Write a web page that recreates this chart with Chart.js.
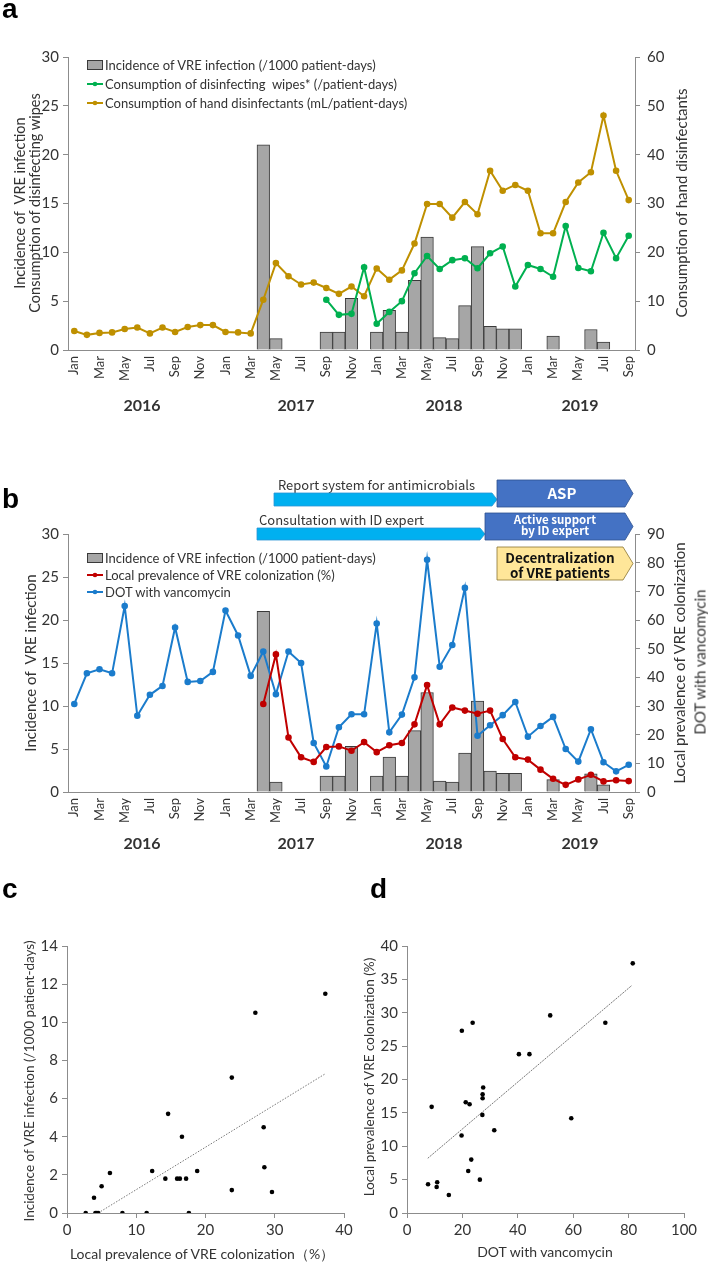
<!DOCTYPE html>
<html><head><meta charset="utf-8">
<script src="https://cdn.jsdelivr.net/npm/chart.js@4/dist/chart.umd.min.js"></script>
<style>
body{margin:0;background:#fff;width:708px;height:1264px;position:relative;overflow:hidden;font-family:Lato,sans-serif;color:#333}
canvas{position:absolute}
#ov{position:absolute;left:0;top:0;pointer-events:none}
.vt{position:absolute;transform:translate(-50%,-50%) rotate(-90deg);white-space:pre;text-align:center;font-family:Lato,sans-serif;color:#333}
</style></head>
<body>
<canvas id="ca" width="708" height="445" style="left:0;top:0"></canvas>
<canvas id="cb" width="708" height="400" style="left:0;top:470px"></canvas>
<canvas id="cc" width="360" height="344" style="left:0;top:920px"></canvas>
<canvas id="cd" width="348" height="344" style="left:360px;top:920px"></canvas>

<div class="vt" style="left:19px;top:203px;font-size:14.5px;line-height:15px">Incidence of  VRE infection</div>
<div class="vt" style="left:34px;top:203px;font-size:14.5px;line-height:15px">Consumption of disinfecting wipes</div>
<div class="vt" style="left:681px;top:203px;font-size:15px;line-height:15px">Consumption of hand disinfectants</div>
<div class="vt" style="left:30px;top:663px;font-size:15px;line-height:15px">Incidence of  VRE infection</div>
<div class="vt" style="left:679px;top:663px;font-size:15px;line-height:15px">Local prevalence of VRE colonization</div>
<div class="vt" style="left:700px;top:662px;font-size:15px;line-height:15px">DOT with vancomycin</div>
<div class="vt" style="left:29px;top:1081px;font-size:13.5px;line-height:14px">Incidence of VRE infection (/1000 patient-days)</div>
<div class="vt" style="left:369px;top:1077px;font-size:13.5px;line-height:14px">Local prevalence of VRE colonization (%)</div>

<svg id="ov" width="708" height="1264"></svg>

<script>
// ---------- DATA ----------
const categories = ['Jan','Feb','Mar','Apr','May','Jun','Jul','Aug','Sep','Oct','Nov','Dec',
  'Jan','Feb','Mar','Apr','May','Jun','Jul','Aug','Sep','Oct','Nov','Dec',
  'Jan','Feb','Mar','Apr','May','Jun','Jul','Aug','Sep','Oct','Nov','Dec',
  'Jan','Feb','Mar','Apr','May','Jun','Jul','Aug','Sep'];
const years = ['2016','2017','2018','2019'];

// Incidence of VRE infection (/1000 patient-days), left axis
const incidence = [null,null,null,null,null,null,null,null,null,null,null,null,
  null,null,null,21.0,1.16,null,null,null,1.84,1.84,5.3,null,
  1.84,4.06,1.84,7.13,11.57,1.26,1.16,4.54,10.58,2.42,2.18,2.18,
  null,null,1.43,null,null,2.1,0.82,null,null];
// Consumption of disinfecting wipes (/patient-days), left axis
const wipes = [null,null,null,null,null,null,null,null,null,null,null,null,
  null,null,null,null,null,null,null,null,5.15,3.6,3.7,8.47,
  2.69,3.9,5.0,7.86,9.63,8.3,9.2,9.4,8.37,9.9,10.6,6.5,
  8.7,8.3,7.5,12.7,8.4,8.06,12.0,9.4,11.7];
// Consumption of hand disinfectants (mL/patient-days), right axis
const handDisinf = [3.9,3.1,3.5,3.6,4.3,4.6,3.4,4.6,3.7,4.7,5.1,5.1,
  3.7,3.6,3.4,10.3,17.8,15.1,13.4,13.8,12.7,11.5,13.0,11.0,
  16.7,14.4,16.3,21.8,29.9,29.9,27.1,30.3,27.8,36.7,32.6,33.8,
  32.6,23.9,23.9,30.3,34.3,36.4,48.0,36.7,30.7];
// Local prevalence of VRE colonization (%), right axis of b
const prevalence = [null,null,null,null,null,null,null,null,null,null,null,null,
  null,null,null,30.7,48.0,19.0,12.1,10.5,15.7,15.9,14.4,17.4,
  13.9,16.3,17.1,23.6,37.3,23.6,29.5,28.4,27.3,28.4,18.5,12.1,
  11.3,7.8,4.6,2.5,4.4,6.0,3.7,4.1,3.8];
// DOT with vancomycin, right axis of b
const dotVanco = [30.7,41.4,42.8,41.4,64.9,26.6,33.9,37.0,57.4,38.4,38.7,41.9,
  63.3,54.6,40.5,49.0,34.1,49.0,45.0,17.1,8.9,22.6,27.1,27.1,
  58.8,20.8,27.0,40.0,81.0,43.7,51.3,71.2,19.6,23.3,26.8,31.4,
  19.3,23.0,26.2,15.0,10.6,21.9,10.4,7.2,9.5];

// Panel c scatter: prevalence (x) vs incidence (y)
const scatterCx = [2.7,4.1,4.3,4.5,8.0,11.5,17.6,3.9,5.0,6.2,12.3,14.2,14.6,15.9,16.3,16.6,17.2,18.8,23.8,23.8,27.2,28.4,28.5,29.6,37.3];
const scatterCy = [0,0,0,0,0,0,0,0.8,1.4,2.1,2.2,1.8,5.2,1.8,1.8,4.0,1.8,2.2,7.1,1.2,10.5,4.5,2.4,1.1,11.5];
const trendCx = [4.5,37.3];
const trendCy = [0,7.3];
// Panel d scatter: DOT (x) vs prevalence (y)
const scatterDx = [81.5,71.6,51.7,59.3,40.4,44.2,19.8,23.7,8.9,21.2,22.6,27.5,27.3,27.3,27.2,19.7,31.5,23.2,22.1,26.3,7.6,10.7,10.9,15.1];
const scatterDy = [37.4,28.5,29.6,14.2,23.8,23.8,27.3,28.5,15.9,16.6,16.3,18.8,17.8,17.2,14.7,11.6,12.4,8.0,6.3,5.0,4.3,3.9,4.6,2.7];
const trendDx = [7.5,81.2];
const trendDy = [8.2,34.1];

// ---------- STYLE ----------
const axisGray = '#8c8c8c';
const txt = '#333';
const green = '#00b050', gold = '#bf9000', red = '#c00000', blue = '#1b7ccc';
const barFill = '#a6a6a6', barEdge = '#3a3a3a';
const fixW = w => s => { s.width = w; };
const fixH = h => s => { s.height = h; };

function yAxis(pos, max, step, w, pad) {
  return {
    position: pos, min: 0, max: max,
    ticks: {stepSize: step, color: txt, font: {family: 'Lato', size: 15}, padding: pad},
    grid: {drawOnChartArea: false, drawTicks: true, tickLength: 5, color: axisGray},
    border: {display: true, color: axisGray},
    afterFit: fixW(w)
  };
}
function xMonths(h) {
  return {
    offset: true,
    ticks: {autoSkip: false, minRotation: 90, maxRotation: 90, color: txt,
      font: {family: 'Lato', size: 13}, padding: 6,
      callback: function (v, i) { return i % 2 === 0 ? this.getLabelForValue(v) : ''; }},
    grid: {display: false, drawTicks: false},
    border: {display: true, color: axisGray},
    afterFit: fixH(h)
  };
}
function lineDs(label, data, color, axis) {
  return {type: 'line', label, data, yAxisID: axis, borderColor: color, backgroundColor: color,
    borderWidth: 2, pointRadius: 2.3, pointHoverRadius: 2.3, tension: 0, order: 1};
}
function barDs(label, data) {
  return {type: 'bar', label, data, yAxisID: 'y', backgroundColor: barFill, borderColor: barEdge,
    borderWidth: 1, barPercentage: 1, categoryPercentage: 1, order: 2};
}
const basePlugins = {legend: {display: false}, tooltip: {enabled: false}};

// ---------- PANEL A ----------
const dsA = [
  barDs('Incidence of VRE infection (/1000 patient-days)', incidence),
  lineDs('Consumption of disinfecting  wipes* (/patient-days)', wipes, green, 'y'),
  lineDs('Consumption of hand disinfectants (mL/patient-days)', handDisinf, gold, 'y1')
];
new Chart(document.getElementById('ca'), {
  type: 'bar',
  data: {labels: categories, datasets: dsA},
  options: {
    responsive: false, animation: false,
    layout: {padding: {top: 57, left: 0, right: 0, bottom: 0}},
    plugins: basePlugins,
    scales: {
      x: xMonths(95),
      y: yAxis('left', 30, 5, 68, 4),
      y1: yAxis('right', 60, 10, 73, 7)
    }
  }
});

// ---------- PANEL B ----------
const dsB = [
  barDs('Incidence of VRE infection (/1000 patient-days)', incidence),
  lineDs('Local prevalence of VRE colonization (%)', prevalence, red, 'y1'),
  lineDs('DOT with vancomycin', dotVanco, blue, 'y1')
];
new Chart(document.getElementById('cb'), {
  type: 'bar',
  data: {labels: categories, datasets: dsB},
  options: {
    responsive: false, animation: false,
    layout: {padding: {top: 64, left: 0, right: 0, bottom: 0}},
    plugins: basePlugins,
    scales: {
      x: xMonths(78),
      y: yAxis('left', 30, 5, 68, 4),
      y1: yAxis('right', 90, 10, 73, 7)
    }
  }
});

// ---------- PANELS C & D ----------
function pts(xs, ys) { return xs.map((x, i) => ({x: x, y: ys[i]})); }
function scatterChart(id, xs, ys, tx, ty, xmax, xstep, ymax, ystep, yw, padR, dash) {
  new Chart(document.getElementById(id), {
    type: 'scatter',
    data: {datasets: [
      {data: pts(xs, ys), backgroundColor: '#000', borderColor: '#000', pointRadius: 2.3, pointBorderWidth: 0},
      {type: 'line', data: pts(tx, ty), borderColor: '#777', borderWidth: 1, borderDash: dash, pointRadius: 0, showLine: true}
    ]},
    options: {
      responsive: false, animation: false,
      layout: {padding: {top: 26, left: 0, right: padR, bottom: 0}},
      plugins: basePlugins,
      scales: {
        x: {type: 'linear', min: 0, max: xmax,
          ticks: {stepSize: xstep, color: txt, font: {family: 'Lato', size: 15}, padding: 3},
          grid: {drawOnChartArea: false, drawTicks: true, tickLength: 5, color: axisGray},
          border: {display: true, color: axisGray}, afterFit: fixH(51)},
        y: {min: 0, max: ymax,
          ticks: {stepSize: ystep, color: txt, font: {family: 'Lato', size: 15}, padding: 4},
          grid: {drawOnChartArea: false, drawTicks: true, tickLength: 5, color: axisGray},
          border: {display: true, color: axisGray}, afterFit: fixW(yw)}
      }
    }
  });
}
scatterChart('cc', scatterCx, scatterCy, trendCx, trendCy, 40, 10, 14, 2, 67, 16, [1.5, 1.5]);
scatterChart('cd', scatterDx, scatterDy, trendDx, trendDy, 100, 20, 40, 5, 47, 24, [2, 1]);

// ---------- OVERLAY (letters, legends, years, program arrows) ----------
const NS = 'http://www.w3.org/2000/svg';
const ov = document.getElementById('ov');
function el(tag, attrs, text) {
  const e = document.createElementNS(NS, tag);
  for (const k in attrs) e.setAttribute(k, attrs[k]);
  if (text !== undefined) e.textContent = text;
  ov.appendChild(e);
  return e;
}
// panel letters
[['a', 2, 18], ['b', 2, 508], ['c', 2, 898], ['d', 370, 898]].forEach(([t, x, y]) =>
  el('text', {x, y, 'font-family': 'Liberation Sans, Arial', 'font-weight': 'bold', 'font-size': 28, fill: '#000'}, t));

// legends
function legend(datasets, y0, dy) {
  datasets.forEach((d, i) => {
    const cy = y0 + i * dy;
    if (d.type === 'bar') {
      el('rect', {x: 87.5, y: cy - 4.5, width: 15, height: 9, fill: barFill, stroke: barEdge, 'stroke-width': 1});
    } else {
      el('line', {x1: 87, y1: cy, x2: 103, y2: cy, stroke: d.borderColor, 'stroke-width': 2});
      el('circle', {cx: 95, cy: cy, r: 2.3, fill: d.borderColor});
    }
    el('text', {x: 105, y: cy + 4.5, 'font-family': 'Lato', 'font-size': 13, fill: txt, style: 'white-space:pre'}, d.label);
  });
}
legend(dsA, 65, 19);
legend(dsB, 558, 17);

// x-axis titles for c and d
el('text', {x: 202, y: 1259, 'text-anchor': 'middle', 'font-family': 'Lato', 'font-size': 14, fill: txt}, 'Local prevalence of VRE colonization（%）');
el('text', {x: 545, y: 1257, 'text-anchor': 'middle', 'font-family': 'Lato', 'font-size': 14, fill: txt}, 'DOT with vancomycin');

// year labels
const yearX = [142, 296, 444, 580];
years.forEach((yr, i) => {
  el('text', {x: yearX[i], y: 411, 'text-anchor': 'middle', 'font-family': 'Lato', 'font-weight': 'bold', 'font-size': 16, fill: txt}, yr);
  el('text', {x: yearX[i], y: 849, 'text-anchor': 'middle', 'font-family': 'Lato', 'font-weight': 'bold', 'font-size': 16, fill: txt}, yr);
});

// intervention timeline (panel b)
const jp = 'Noto Sans CJK JP';
el('text', {x: 278, y: 490, 'font-family': jp, 'font-size': 13, fill: txt}, 'Report system for antimicrobials');
el('polygon', {points: '274,493 492,493 497,499.5 492,506 274,506', fill: '#00b0f0', stroke: '#2a95d6', 'stroke-width': 0.8});
el('polygon', {points: '497,480 625,480 633,493.5 625,507 497,507', fill: '#4472c4', stroke: '#2f528f', 'stroke-width': 0.8});
el('text', {x: 562, y: 499, 'text-anchor': 'middle', 'font-family': jp, 'font-weight': 'bold', 'font-size': 15, fill: '#fff'}, 'ASP');
el('text', {x: 259, y: 525, 'font-family': jp, 'font-size': 13, fill: txt}, 'Consultation with ID expert');
el('polygon', {points: '257,528 480,528 485,534 480,540 257,540', fill: '#00b0f0', stroke: '#2a95d6', 'stroke-width': 0.8});
el('polygon', {points: '485,513 625,513 633,526.5 625,540 485,540', fill: '#4472c4', stroke: '#2f528f', 'stroke-width': 0.8});
el('text', {x: 555, y: 524, 'text-anchor': 'middle', 'font-family': jp, 'font-weight': 'bold', 'font-size': 11.5, fill: '#fff'}, 'Active support');
el('text', {x: 555, y: 534.5, 'text-anchor': 'middle', 'font-family': jp, 'font-weight': 'bold', 'font-size': 11.5, fill: '#fff'}, 'by ID expert');
el('polygon', {points: '497,547 623,547 633,563.5 623,580 497,580', fill: '#ffe699', stroke: '#8a7430', 'stroke-width': 0.8});
el('text', {x: 560, y: 563, 'text-anchor': 'middle', 'font-family': jp, 'font-weight': 'bold', 'font-size': 13.5, fill: '#111'}, 'Decentralization');
el('text', {x: 560, y: 578, 'text-anchor': 'middle', 'font-family': jp, 'font-weight': 'bold', 'font-size': 13.5, fill: '#111'}, 'of VRE patients');
</script>
</body></html>
